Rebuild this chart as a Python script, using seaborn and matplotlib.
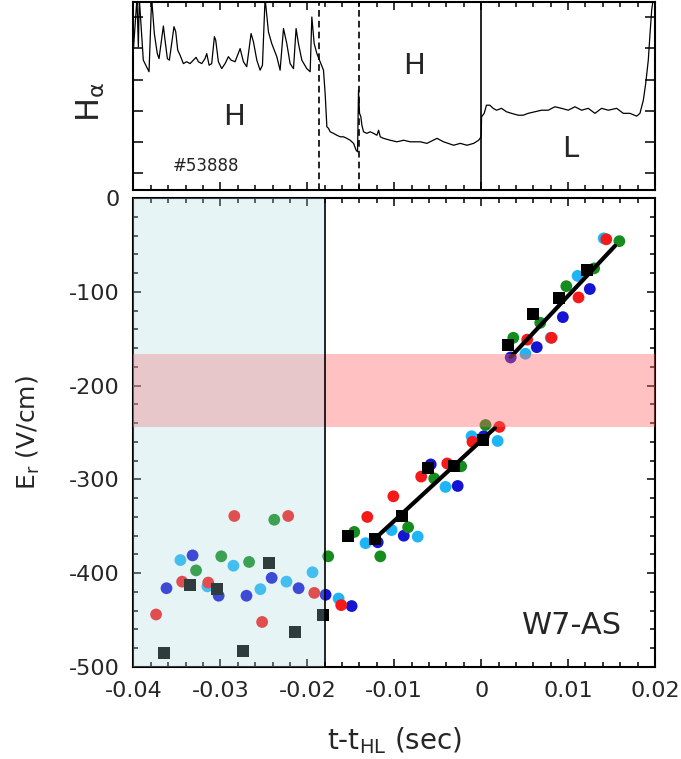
import matplotlib
matplotlib.use("Agg")
import numpy as np
import pandas as pd
import matplotlib.pyplot as plt
from matplotlib.ticker import MultipleLocator, FixedLocator, FixedFormatter, NullFormatter
import seaborn as sns

# H-alpha trace (time in ms, signal in arb. units)
ha_t_ms = [-40.0, -39.60, -39.44, -39.33, -39.17, -38.87, -38.21, -37.91, -37.60, -37.26,
           -37.06, -36.56, -36.37, -36.10, -35.87, -35.34, -35.14, -34.91, -34.64, -34.26,
           -33.88, -33.49, -33.11, -32.80, -32.53, -32.15, -31.77, -31.57, -31.30, -31.00,
           -30.69, -30.54, -30.23, -29.85, -29.46, -29.08, -28.77, -28.31, -27.73, -27.35,
           -26.97, -26.47, -26.20, -25.81, -25.43, -25.16, -24.86, -24.47, -24.09, -23.51,
           -23.13, -22.74, -22.36, -21.98, -21.59, -21.29, -21.02, -20.63, -20.06, -19.67,
           -19.48, -19.21, -18.90, -18.14, -17.95, -17.75, -17.56, -17.37, -16.99, -16.60,
           -16.22, -15.83, -15.45, -15.07, -14.68, -14.38, -14.22, -14.11, -13.99, -13.84,
           -13.72, -13.53, -13.15, -12.76, -12.38, -11.99, -11.80, -11.61, -11.23, -10.46,
           -9.69, -8.92, -8.16, -7.00, -6.24, -5.08, -4.32, -3.17, -2.40, -1.63,
           -0.86, -0.29, 0.0, 0.05, 0.35, 0.61, 1.0, 1.38, 1.77, 2.34,
           2.92, 3.49, 4.26, 4.84, 5.41, 6.18, 6.95, 7.72, 8.49, 9.25,
           10.02, 10.79, 11.56, 12.32, 13.09, 13.86, 14.63, 15.59, 16.35, 17.12,
           17.89, 18.27, 18.66, 18.93, 19.23, 19.43, 19.62, 19.81]
ha_val = [4.99, 6.6, 5.05, 6.6, 5.90, 4.62, 4.25, 6.6, 5.47, 4.83,
          4.67, 5.71, 5.26, 4.67, 4.62, 5.69, 5.53, 4.94, 4.78, 4.51,
          4.57, 4.51, 4.62, 4.71, 4.57, 4.51, 4.67, 4.83, 4.46, 4.51,
          5.37, 5.26, 4.57, 4.35, 4.51, 4.73, 4.62, 4.57, 4.99, 4.57,
          4.41, 5.47, 5.21, 4.62, 4.30, 4.46, 6.6, 5.52, 5.15, 4.73,
          4.30, 5.63, 5.15, 4.51, 4.35, 5.63, 5.15, 4.62, 4.35, 4.25,
          6.00, 5.15, 4.83, 4.30, 3.56, 2.49, 2.44, 2.33, 2.28, 2.22,
          2.17, 2.17, 2.12, 2.06, 1.96, 1.74, 1.69, 3.66, 2.92, 2.81,
          2.54, 2.33, 2.28, 2.33, 2.28, 2.22, 2.38, 2.17, 2.12, 2.06,
          2.01, 2.06, 2.01, 2.01, 1.96, 2.12, 2.01, 1.90, 1.96, 1.90,
          1.96, 2.06, 2.17, 2.81, 2.92, 3.18, 3.18, 3.08, 3.02, 3.08,
          2.97, 2.92, 2.86, 2.86, 2.92, 2.97, 3.02, 3.02, 3.13, 3.08,
          3.02, 3.13, 3.02, 3.08, 2.92, 3.08, 3.02, 3.08, 2.92, 2.92,
          2.83, 2.92, 3.34, 3.87, 4.62, 5.47, 6.22, 6.6]

# transition markers in the H-alpha panel (sec)
dashed_t = [-0.0187, -0.0140]
solid_t = [0.0]

# Er points (t in sec, Er in V/cm)
red_t = [-0.0374, -0.0344, -0.0314, -0.0284, -0.0252, -0.0222, -0.0192, -0.0161, -0.0131,
         -0.0101, -0.0069, -0.0039, -0.0010, 0.0021, 0.0053, 0.0081, 0.0112, 0.0144]
red_er = [-444, -409, -410, -339, -452, -339, -421, -434, -340,
          -318, -297, -283, -260, -244, -151, -149, -106, -44]
green_t = [-0.0328, -0.0299, -0.0267, -0.0238, -0.0176, -0.0146, -0.0116, -0.0084,
           -0.0054, -0.0023, 0.0005, 0.0037, 0.0068, 0.0098, 0.0130, 0.0159]
green_er = [-397, -382, -388, -343, -382, -356, -382, -351,
            -299, -286, -242, -149, -133, -94, -75, -46]
blue_t = [-0.0362, -0.0332, -0.0302, -0.0270, -0.0241, -0.0210, -0.0179, -0.0149, -0.0119,
          -0.0089, -0.0058, -0.0027, 0.0003, 0.0034, 0.0064, 0.0094, 0.0125]
blue_er = [-416, -381, -424, -424, -405, -416, -423, -435, -367,
           -360, -284, -307, -254, -170, -159, -127, -97]
lblue_t = [-0.0346, -0.0315, -0.0285, -0.0254, -0.0224, -0.0194, -0.0164, -0.0133, -0.0103,
           -0.0073, -0.0041, -0.0011, 0.0019, 0.0051, 0.0080, 0.0111, 0.0141]
lblue_er = [-386, -414, -392, -417, -409, -399, -427, -368, -354,
            -361, -308, -254, -259, -166, -149, -83, -43]
square_t = [-0.0365, -0.0335, -0.0304, -0.0274, -0.0244, -0.0214, -0.0182, -0.0153, -0.0122,
            -0.0091, -0.0061, -0.0031, 0.0002, 0.0031, 0.0060, 0.0090, 0.0122]
square_er = [-485, -413, -417, -483, -389, -463, -445, -360, -363,
             -339, -288, -286, -258, -157, -124, -107, -77]

# linear fits through the black squares
fit1_t = [-0.0122, 0.0016]
fit1_er = [-363, -245]
fit2_t = [0.0034, 0.0154]
fit2_er = [-169.5, -51]

# shaded regions
hmode_span = [-0.04, -0.018]
band_er = [-244, -166]

x_ticks = [-0.04, -0.03, -0.02, -0.01, 0.0, 0.01, 0.02]
x_tick_labels = ['-0.04', '-0.03', '-0.02', '-0.01', '0', '0.01', '0.02']
y_ticks = [-500, -400, -300, -200, -100, 0]
y_tick_labels = ['-500', '-400', '-300', '-200', '-100', '0']

sns.set_style("ticks")
plt.rcParams['font.family'] = ['DejaVu Sans']
plt.rcParams['axes.unicode_minus'] = False
plt.rcParams['mathtext.default'] = 'regular'

fig = plt.figure(figsize=(6.81, 7.59), dpi=100)
ax1 = fig.add_axes([0.196, 0.7497, 0.7658, 0.2477])
ax2 = fig.add_axes([0.196, 0.1212, 0.7658, 0.6179])

# ---- top panel: H-alpha ----
ha = pd.DataFrame({'t': np.array(ha_t_ms) / 1000.0, 'v': ha_val})
sns.lineplot(data=ha, x='t', y='v', sort=False, estimator=None, color='k', lw=0.9, ax=ax1)
for t in dashed_t:
    ax1.axvline(t, color='k', lw=1.2, ls=(0, (4, 2.5)))
for t in solid_t:
    ax1.axvline(t, color='k', lw=1.2)
ax1.set_xlim(-0.04, 0.02)
ax1.set_ylim(0.47, 6.48)
ax1.yaxis.set_major_locator(FixedLocator([1, 2, 3, 4, 5, 6]))
ax1.yaxis.set_major_formatter(NullFormatter())
ax1.xaxis.set_major_locator(MultipleLocator(0.01))
ax1.xaxis.set_minor_locator(MultipleLocator(0.002))
ax1.xaxis.set_major_formatter(NullFormatter())
ax1.set_xlabel('')
ax1.set_ylabel(r'H$_{\alpha}$', fontsize=23)
ax1.yaxis.set_label_coords(-0.05, 0.47)
ax1.text(-0.0284, 2.80, 'H', fontsize=21, ha='center', va='center')
ax1.text(-0.0077, 4.43, 'H', fontsize=21, ha='center', va='center')
ax1.text(0.0102, 1.77, 'L', fontsize=21, ha='center', va='center')
ax1.text(-0.0317, 1.23, '#53888', fontsize=12, ha='center', va='center', color='#222222')

# ---- bottom panel: Er ----
circles = pd.concat([
    pd.DataFrame({'t': lblue_t, 'Er': lblue_er, 'probe': 'lightblue'}),
    pd.DataFrame({'t': blue_t, 'Er': blue_er, 'probe': 'blue'}),
    pd.DataFrame({'t': green_t, 'Er': green_er, 'probe': 'green'}),
    pd.DataFrame({'t': red_t, 'Er': red_er, 'probe': 'red'}),
], ignore_index=True)
palette = {'lightblue': '#1eb4f5', 'blue': '#1414d2', 'green': '#148c1e', 'red': '#f51919'}
sns.scatterplot(data=circles, x='t', y='Er', hue='probe', palette=palette, s=72,
                marker='o', linewidth=0, legend=False, ax=ax2, zorder=3)
sns.lineplot(x=fit1_t, y=fit1_er, color='k', lw=3, ax=ax2, zorder=3.5)
sns.lineplot(x=fit2_t, y=fit2_er, color='k', lw=3, ax=ax2, zorder=3.5)
sns.scatterplot(x=square_t, y=square_er, marker='s', color='k', s=85, linewidth=0,
                ax=ax2, zorder=4)

ax2.axhspan(band_er[0], band_er[1], color='#ff6464', alpha=0.4, lw=0, zorder=4.5)
ax2.axvspan(hmode_span[0], hmode_span[1], color='#aad8e0', alpha=0.28, lw=0, zorder=5)
ax2.axvline(hmode_span[1], color='k', lw=1.2, zorder=6)

ax2.set_xlim(-0.04, 0.02)
ax2.set_ylim(-500, 0)
ax2.xaxis.set_major_locator(FixedLocator(x_ticks))
ax2.xaxis.set_major_formatter(FixedFormatter(x_tick_labels))
ax2.xaxis.set_minor_locator(MultipleLocator(0.002))
ax2.yaxis.set_major_locator(FixedLocator(y_ticks))
ax2.yaxis.set_major_formatter(FixedFormatter(y_tick_labels))
ax2.yaxis.set_minor_locator(MultipleLocator(20))
ax2.set_xlabel(r't-t$_{HL}$ (sec)', fontsize=20)
ax2.set_ylabel(r'E$_{r}$ (V/cm)', fontsize=18)
ax2.xaxis.set_label_coords(0.5, -0.124)
ax2.yaxis.set_label_coords(-0.175, 0.5)
ax2.text(0.0105, -456, 'W7-AS', fontsize=22, ha='center', va='center', zorder=7)

for ax in (ax1, ax2):
    for sp in ax.spines.values():
        sp.set_linewidth(1.5)
        sp.set_color('k')
    ax.tick_params(which='both', direction='in', top=True, right=True,
                   width=1.1, color='k', labelsize=16, pad=10)
    ax.tick_params(which='major', length=6)
    ax.tick_params(which='minor', length=3.5)
ax1.tick_params(axis='y', which='major', length=7)
ax1.xaxis.label.set_visible(False)

fig.savefig('out.png', dpi=100)
